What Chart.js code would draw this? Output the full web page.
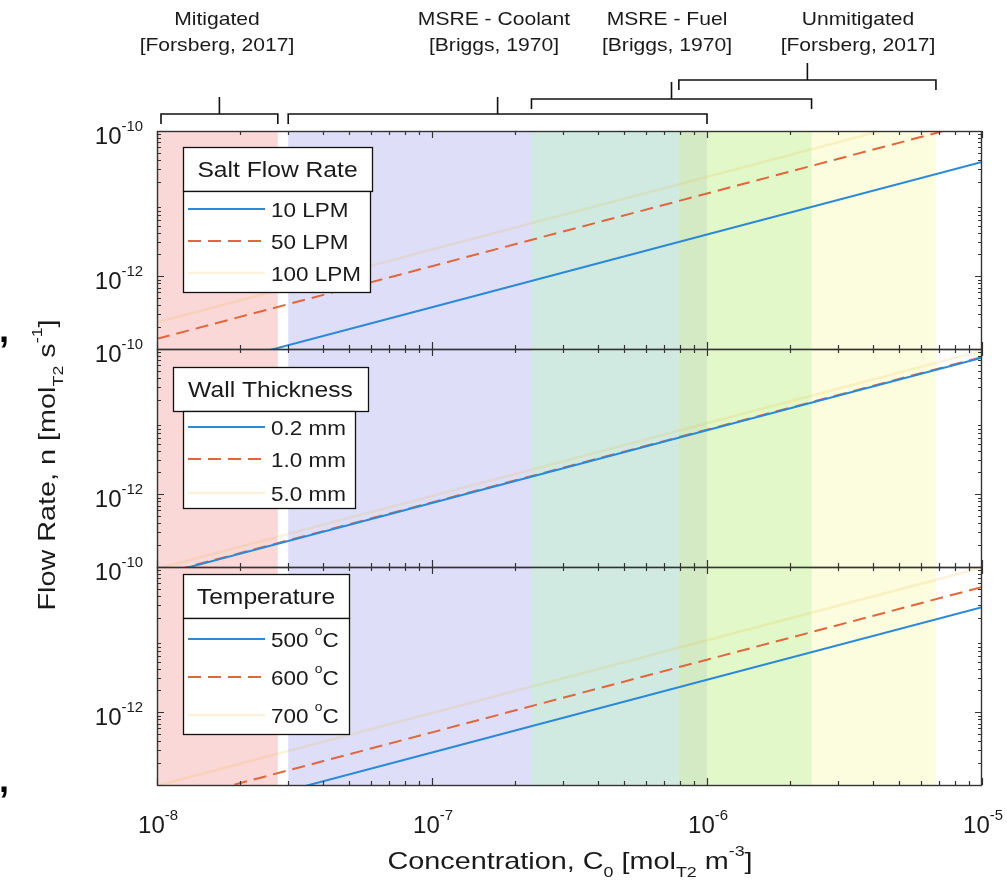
<!DOCTYPE html>
<html>
<head>
<meta charset="utf-8">
<script src="https://cdn.jsdelivr.net/npm/chart.js@4.4.0/dist/chart.umd.min.js"></script>
<style>
body { margin: 0; background: #fff; }
#wrap { position: relative; width: 1007px; height: 891px; }
#wrap canvas { position: absolute; left: 0; top: 0; }
</style>
</head>
<body>
<div id="wrap">
  <canvas id="c1" width="1007" height="891"></canvas>
  <canvas id="c2" width="1007" height="891"></canvas>
  <canvas id="c3" width="1007" height="891"></canvas>
</div>
<script>
// Data
const concentration = [1e-8, 1e-7, 1e-6, 1e-5];

const flowLabels = ['10 LPM', '50 LPM', '100 LPM'];
const flow10 = [3.76e-14, 3.76e-13, 3.76e-12, 3.76e-11];
const flow50 = [1.38e-13, 1.38e-12, 1.38e-11, 1.38e-10];
const flow100 = [2.34e-13, 2.34e-12, 2.34e-11, 2.34e-10];

const wallLabels = ['0.2 mm', '1.0 mm', '5.0 mm'];
const wall02 = [7.6e-14, 7.6e-13, 7.6e-12, 7.6e-11];
const wall10 = [7.75e-14, 7.75e-13, 7.75e-12, 7.75e-11];
const wall50 = [9.5e-14, 9.5e-13, 9.5e-12, 9.5e-11];

const tempLabels = ['500 °C', '600 °C', '700 °C'];
const temp500 = [2.8e-14, 2.8e-13, 2.8e-12, 2.8e-11];
const temp600 = [5.3e-14, 5.3e-13, 5.3e-12, 5.3e-11];
const temp700 = [9.8e-14, 9.8e-13, 9.8e-12, 9.8e-11];

const legendTitles = ['Salt Flow Rate', 'Wall Thickness', 'Temperature'];

// concentration ranges shown as shaded bands
const bandNames = ['Mitigated', 'MSRE - Coolant', 'MSRE - Fuel', 'Unmitigated'];
const bandRefs = ['[Forsberg, 2017]', '[Briggs, 1970]', '[Briggs, 1970]', '[Forsberg, 2017]'];
const bandStart = [1e-8, 3e-8, 2.3e-7, 7.9e-7];
const bandEnd = [2.75e-8, 1e-6, 2.4e-6, 6.8e-6];

const xTickVals = [1e-8, 1e-7, 1e-6, 1e-5];
const yTickVals = [1e-12, 1e-10];

// Styles and layout
const FONT = '"Liberation Sans", Arial, Helvetica, sans-serif';
const TXT = '#1a1a1a';
const lineColors = ['#2b8ad8', '#e0663c', 'rgba(237,177,32,0.16)'];
const lineDashes = [[], [13, 7], []];
const lineWidths = [2, 2, 2.5];
const bandColors = ['rgba(240,120,120,0.29)', 'rgba(150,150,235,0.31)',
                    'rgba(194,245,204,0.51)', 'rgba(235,235,35,0.15)'];
const bracketY = [114, 114, 99, 80];
const bandLabelX = [217, 494, 667, 858];
const plotLeft = 157, plotRight = 982;
const panelEdges = [131, 349, 567, 785];
const legendBoxes = [
    { title: [183, 16, 189, 44], body: [183, 60, 187, 101], rows: [78, 110, 142] },
    { title: [173, 18, 195, 44], body: [183, 62, 172, 97], rows: [78, 110, 144] },
    { title: [183, 7, 166, 44], body: [183, 51, 166, 116], rows: [72, 110, 148] }
];

// Draw text with sub/superscript parts: [[text, ''|'sup'|'sub'], ...]
function drawRich(ctx, parts, x, y, size, align, sx) {
    sx = sx || 1;
    const items = parts.map(([t, k]) => {
        const s = k ? size * 0.62 : size;
        ctx.font = s + 'px ' + FONT;
        return { t, s, dy: k === 'sup' ? -size * 0.55 : (k === 'sub' ? size * 0.33 : 0), w: ctx.measureText(t).width };
    });
    const total = items.reduce((a, b) => a + b.w, 0);
    let cx = align === 'center' ? -total / 2 : (align === 'right' ? -total : 0);
    ctx.save();
    ctx.translate(x, y);
    ctx.scale(sx, 1);
    ctx.fillStyle = TXT;
    ctx.textAlign = 'left';
    ctx.textBaseline = 'alphabetic';
    items.forEach(it => {
        ctx.font = it.s + 'px ' + FONT;
        ctx.fillText(it.t, cx, it.dy);
        cx += it.w;
    });
    ctx.restore();
}

function labelParts(label) {
    if (label.indexOf('°') < 0) return [[label, '']];
    const p = label.split('°');
    return [[p[0], ''], ['o', 'sup'], [p[1], '']];
}

function expParts(v) {
    return [['10', ''], [String(Math.round(Math.log10(v))), 'sup']];
}

// minor tick values 2..9 x 10^n between two decades
function minorTicks(lo, hi) {
    const out = [];
    for (let d = lo; d < hi; d++) {
        for (let m = 2; m <= 9; m++) out.push(m * Math.pow(10, d));
    }
    return out;
}

function panelPlugin(idx) {
    return {
        id: 'panel' + idx,
        beforeDatasetsDraw(chart) {
            const { ctx, chartArea: a, scales: { x } } = chart;
            ctx.save();
            ctx.beginPath();
            ctx.rect(a.left, a.top, a.width, a.height);
            ctx.clip();
            bandStart.forEach((s, i) => {
                const x0 = x.getPixelForValue(s);
                const x1 = x.getPixelForValue(bandEnd[i]);
                ctx.fillStyle = bandColors[i];
                ctx.fillRect(x0, a.top, x1 - x0, a.height);
            });
            ctx.restore();
        },
        afterDatasetsDraw(chart) {
            const { ctx, chartArea: a, scales: { x, y } } = chart;
            ctx.save();

            // ticks, pointing inwards on all four sides
            ctx.strokeStyle = '#333';
            ctx.lineWidth = 1.2;
            ctx.beginPath();
            const xt = xTickVals.map(v => [v, 7]).concat(minorTicks(-8, -5).map(v => [v, 4]));
            xt.forEach(([v, len]) => {
                const px = Math.round(x.getPixelForValue(v)) + 0.5;
                ctx.moveTo(px, a.top); ctx.lineTo(px, a.top + len);
                ctx.moveTo(px, a.bottom); ctx.lineTo(px, a.bottom - len);
            });
            const yt = yTickVals.map(v => [v, 7]).concat(minorTicks(-13, -10).map(v => [v, 4]));
            yt.forEach(([v, len]) => {
                const py = Math.round(y.getPixelForValue(v)) + 0.5;
                ctx.moveTo(a.left, py); ctx.lineTo(a.left + len, py);
                ctx.moveTo(a.right, py); ctx.lineTo(a.right - len, py);
            });
            ctx.stroke();

            ctx.lineWidth = 1.4;
            ctx.strokeRect(a.left + 0.5, a.top + 0.5, a.width - 1, a.height);

            // y tick labels
            yTickVals.forEach(v => {
                drawRich(ctx, expParts(v), 143, y.getPixelForValue(v) + 13, 24, 'right');
            });

            // legend
            const lb = legendBoxes[idx];
            const top = a.top;
            ctx.fillStyle = '#fff';
            ctx.strokeStyle = '#111';
            ctx.lineWidth = 1.3;
            [lb.title, lb.body].forEach(r => {
                ctx.fillRect(r[0], top + r[1], r[2], r[3]);
                ctx.strokeRect(r[0] + 0.5, top + r[1] + 0.5, r[2], r[3]);
            });
            drawRich(ctx, [[legendTitles[idx], '']], lb.title[0] + lb.title[2] / 2,
                     top + lb.title[1] + lb.title[3] / 2 + 8, 22, 'center', 1.12);
            chart.data.datasets.forEach((ds, k) => {
                const ry = top + lb.rows[k];
                ctx.save();
                ctx.strokeStyle = ds.borderColor;
                ctx.lineWidth = ds.borderWidth;
                ctx.setLineDash(ds.borderDash || []);
                ctx.beginPath();
                ctx.moveTo(188, ry); ctx.lineTo(265, ry);
                ctx.stroke();
                ctx.restore();
                drawRich(ctx, labelParts(ds.label), 271, ry + 7.5, 21, 'left', 1.07);
            });

            if (idx === 0) {
                // range brackets and their labels above the plot
                ctx.strokeStyle = '#111';
                ctx.lineWidth = 1.6;
                bandStart.forEach((s, i) => {
                    const x0 = Math.max(x.getPixelForValue(s), a.left + 4);
                    const x1 = x.getPixelForValue(bandEnd[i]);
                    const by = bracketY[i];
                    const mid = (x0 + x1) / 2;
                    ctx.beginPath();
                    ctx.moveTo(x0, by + 10); ctx.lineTo(x0, by); ctx.lineTo(x1, by); ctx.lineTo(x1, by + 10);
                    ctx.moveTo(mid, by); ctx.lineTo(mid, by - 17);
                    ctx.stroke();
                    drawRich(ctx, [[bandNames[i], '']], bandLabelX[i], 25, 19, 'center', 1.11);
                    drawRich(ctx, [[bandRefs[i], '']], bandLabelX[i], 51, 19, 'center', 1.11);
                });
            }

            if (idx === 2) {
                xTickVals.forEach(v => {
                    drawRich(ctx, expParts(v), x.getPixelForValue(v) + 1, a.bottom + 48, 24, 'center');
                });
                drawRich(ctx, [['Concentration, C', ''], ['0', 'sub'], [' [mol', ''], ['T2', 'sub'],
                               [' m', ''], ['-3', 'sup'], [']', '']], 570, 869, 24, 'center', 1.2);
                ctx.save();
                ctx.translate(46, 465);
                ctx.rotate(-Math.PI / 2);
                drawRich(ctx, [['Flow Rate, n [mol', ''], ['T2', 'sub'], [' s', ''], ['-1', 'sup'], [']', '']],
                         0, 9, 24, 'center', 1.2);
                ctx.restore();
                ctx.fillStyle = '#000';
                ctx.font = 'bold 36px ' + FONT;
                ctx.textAlign = 'left';
                ctx.fillText(',', -1, 342);
                ctx.fillText(',', -1, 792);
            }
            ctx.restore();
        }
    };
}

function makeChart(id, idx, labels, series) {
    return new Chart(document.getElementById(id), {
        type: 'line',
        data: {
            datasets: series.map((vals, k) => ({
                label: labels[k],
                data: concentration.map((c, j) => ({ x: c, y: vals[j] })),
                borderColor: lineColors[k],
                borderWidth: lineWidths[k],
                borderDash: lineDashes[k],
                pointRadius: 0,
                fill: false,
                tension: 0,
                clip: 0
            }))
        },
        options: {
            responsive: false,
            animation: false,
            events: [],
            layout: {
                padding: {
                    left: plotLeft,
                    right: 1007 - plotRight,
                    top: panelEdges[idx],
                    bottom: 891 - panelEdges[idx + 1]
                }
            },
            scales: {
                x: { type: 'logarithmic', min: 1e-8, max: 1e-5, display: false },
                y: { type: 'logarithmic', min: 1e-13, max: 1e-10, display: false }
            },
            plugins: {
                legend: { display: false },
                tooltip: { enabled: false }
            }
        },
        plugins: [panelPlugin(idx)]
    });
}

makeChart('c1', 0, flowLabels, [flow10, flow50, flow100]);
makeChart('c2', 1, wallLabels, [wall02, wall10, wall50]);
makeChart('c3', 2, tempLabels, [temp500, temp600, temp700]);
</script>
</body>
</html>
